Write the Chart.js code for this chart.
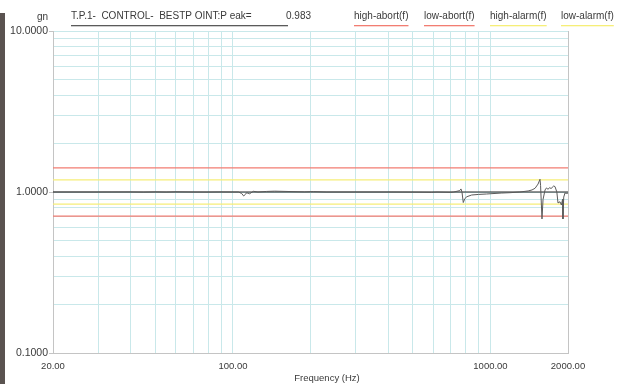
<!DOCTYPE html>
<html>
<head>
<meta charset="utf-8">
<script src="https://cdn.jsdelivr.net/npm/chart.js@4/dist/chart.umd.min.js"></script>
<style>
  html, body { margin: 0; padding: 0; background: #fff; overflow: hidden; }
  #wrap { position: relative; width: 637px; height: 384px; }
  #graph { display: block; }
  #edge { position: absolute; left: 0; top: 13px; width: 5px; height: 371px; background: #5a5350; }
</style>
</head>
<body>
<div id="wrap">
  <canvas id="graph" width="637" height="384"></canvas>
  <div id="edge"></div>
</div>
<script>
// control trace (frequency in Hz, level in gn)
const freqs = [20, 30, 40, 45, 50, 55, 60, 70, 80, 90, 100, 105, 108, 110, 112, 113, 116, 120, 125, 135,
  145, 165, 190, 205, 230, 300, 400, 500, 590, 620, 700, 720, 760, 768, 775, 784, 795, 810, 845, 900,
  966, 1100, 1190, 1300, 1400, 1450, 1490, 1530, 1557, 1565, 1585, 1600, 1629, 1650, 1672, 1700, 1718, 1760, 1781, 1810,
  1829, 1862, 1885, 1905, 1912, 1925, 1947, 1980, 2000];
const control = [1.0, 1.0, 1.001, 0.998, 1.002, 0.999, 1.003, 1.0, 0.999, 1.001, 1.0, 1.0, 0.98, 0.945, 0.97, 0.99, 0.975, 1.01, 1.0, 1.008,
  1.012, 1.007, 1.002, 1.006, 1.0, 1.0, 1.0, 0.998, 0.995, 0.999, 0.994, 1.0, 1.02, 1.045, 1.0, 0.86, 0.91, 0.935, 0.958, 0.966,
  0.972, 0.985, 0.99, 1.0, 1.015, 1.03, 1.055, 1.12, 1.2, 1.1, 0.68, 0.9, 1.03, 1.06, 1.04, 1.065, 1.05, 1.09, 1.08, 1.0,
  0.855, 0.87, 0.83, 0.9, 0.68, 0.93, 0.986, 0.98, 0.985];

const peak = 0.983;
const range = [20, 2000];
const profile = [1.0, 1.0];
const highAbort = [1.413, 1.413];
const lowAbort = [0.708, 0.708];
const highAlarm = [1.189, 1.189];
const lowAlarm = [0.841, 0.841];

const xTicks = [20, 30, 40, 50, 60, 70, 80, 90, 100, 200, 300, 400, 500, 600, 700, 800, 900, 1000, 2000];
const xLabels = [20, 100, 1000, 2000];
const yTicks = [0.1, 0.2, 0.3, 0.4, 0.5, 0.6, 0.7, 0.8, 0.9, 1, 2, 3, 4, 5, 6, 7, 8, 9, 10];
const yLabels = [0.1, 1, 10];
const xTitle = 'Frequency (Hz)';
const yTitle = 'gn';

const pts = (xs, ys) => xs.map((x, i) => ({ x: x, y: ys[i] }));

const gridCyan = '#c9e8ea';
const frameGrey = '#c4c4c4';
const textCol = '#3a3a3a';
const fontFam = '"Liberation Sans", Arial, sans-serif';

// legend: text with a coloured line under it, plus the axis titles
const legendX = [71, 354, 424, 490, 561];
const underlineLegend = {
  id: 'underlineLegend',
  afterDraw(chart) {
    const ctx = chart.ctx;
    ctx.save();
    ctx.font = '10px ' + fontFam;
    ctx.textBaseline = 'middle';
    ctx.fillStyle = textCol;
    ctx.textAlign = 'right';
    ctx.fillText(yTitle, 48, 17);
    ctx.textAlign = 'center';
    ctx.font = '9.5px ' + fontFam;
    ctx.fillText(xTitle, 327, 378);
    ctx.font = '10px ' + fontFam;
    ctx.textAlign = 'left';
    const items = chart.data.datasets.filter(d => d.legend);
    items.forEach((d, i) => {
      const x = legendX[i];
      ctx.fillStyle = textCol;
      ctx.fillText(d.label, x, 16.5);
      let w = ctx.measureText(d.label).width;
      if (i === 0) {
        ctx.fillText(peak.toFixed(3), 286, 16.5);
        w = 288 - x;
      }
      ctx.fillStyle = d.borderColor;
      ctx.fillRect(x, 25, w, 1.3);
    });
    ctx.restore();
  }
};

new Chart(document.getElementById('graph'), {
  type: 'line',
  data: {
    datasets: [
      {
        label: 'profile',
        data: pts(range, profile),
        borderColor: '#222',
        borderWidth: 1,
        pointRadius: 0,
        order: 2
      },
      {
        label: 'T.P.1-  CONTROL-  BESTP OINT:P eak=',
        legend: true,
        data: pts(freqs, control),
        borderColor: '#5a5a5a',
        borderWidth: 1,
        pointRadius: 0,
        tension: 0,
        order: 1
      },
      {
        label: 'high-abort(f)',
        legend: true,
        data: pts(range, highAbort),
        borderColor: '#f27d72',
        borderWidth: 1.2,
        pointRadius: 0,
        order: 3
      },
      {
        label: 'low-abort(f)',
        legend: true,
        data: pts(range, lowAbort),
        borderColor: '#f27d72',
        borderWidth: 1.2,
        pointRadius: 0,
        order: 3
      },
      {
        label: 'high-alarm(f)',
        legend: true,
        data: pts(range, highAlarm),
        borderColor: '#f6ee78',
        borderWidth: 1.2,
        pointRadius: 0,
        order: 3
      },
      {
        label: 'low-alarm(f)',
        legend: true,
        data: pts(range, lowAlarm),
        borderColor: '#f6ee78',
        borderWidth: 1.2,
        pointRadius: 0,
        order: 3
      }
    ]
  },
  options: {
    responsive: false,
    animation: false,
    devicePixelRatio: 1,
    layout: { padding: { top: 31, right: 69, left: 0, bottom: 0 } },
    plugins: {
      legend: { display: false },
      tooltip: { enabled: false }
    },
    scales: {
      x: {
        type: 'logarithmic',
        min: 20,
        max: 2000,
        afterBuildTicks: (scale) => { scale.ticks = xTicks.map(v => ({ value: v })); },
        afterFit: (scale) => { scale.height = 31; },
        ticks: {
          autoSkip: false,
          maxRotation: 0,
          padding: 8,
          color: textCol,
          font: { family: fontFam, size: 9.5 },
          callback: (v) => xLabels.includes(v) ? v.toFixed(2) : ''
        },
        grid: {
          drawTicks: false,
          color: (c) => (c.tick && c.tick.value === 2000) ? frameGrey : gridCyan
        },
        border: { color: frameGrey }
      },
      y: {
        type: 'logarithmic',
        min: 0.1,
        max: 10,
        afterBuildTicks: (scale) => { scale.ticks = yTicks.map(v => ({ value: v })); },
        afterFit: (scale) => { scale.width = 53; },
        ticks: {
          autoSkip: false,
          padding: 1,
          color: textCol,
          font: { family: fontFam, size: 10.5 },
          callback: (v) => yLabels.includes(v) ? v.toFixed(4) : ''
        },
        grid: {
          tickLength: 4,
          color: gridCyan,
          tickColor: (c) => (c.tick && yLabels.includes(c.tick.value)) ? frameGrey : 'rgba(0,0,0,0)'
        },
        border: { color: frameGrey }
      }
    }
  },
  plugins: [underlineLegend]
});
</script>
</body>
</html>
